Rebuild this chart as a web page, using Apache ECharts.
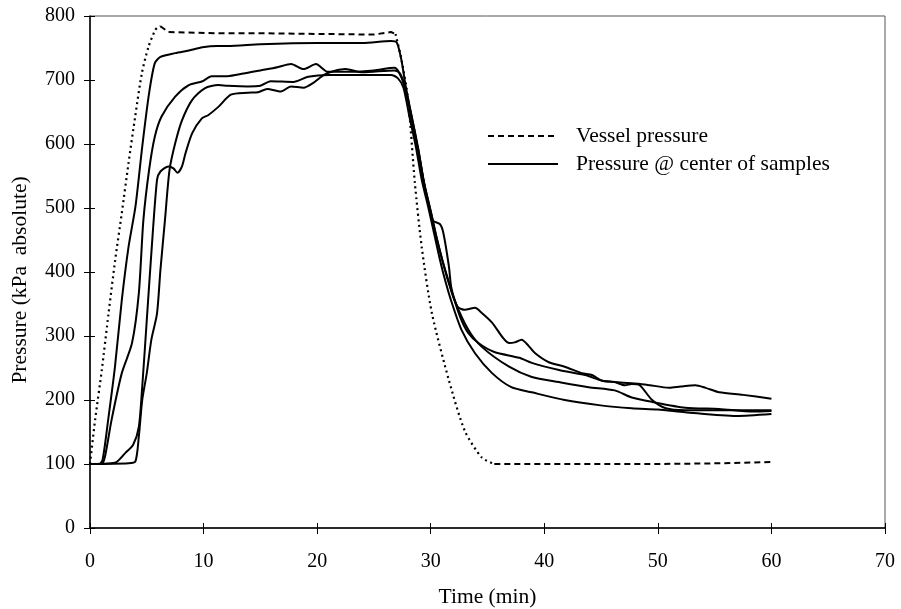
<!DOCTYPE html>
<html>
<head>
<meta charset="utf-8">
<script src="https://cdn.jsdelivr.net/npm/echarts@6/dist/echarts.min.js"></script>
<style>
html,body{margin:0;padding:0;background:#fff;}
#chart{width:901px;height:609px;}
</style>
</head>
<body>
<div id="chart"></div>
<script>
// ---- data (time in min, pressure in kPa absolute) ----
var vesselTime = [0, 0.45, 1.04, 1.63, 2.22, 2.8, 3.39, 3.98, 4.56, 5.15, 5.74, 6.0, 6.2, 6.9, 11, 15, 20, 25, 26.5, 26.9, 27.4, 28.0, 28.6, 29.2, 30.1, 31.6, 33.0, 34.5, 35.6, 40, 45, 50, 55, 60];
var vesselPressure = [100, 169, 247, 335, 419, 492, 570, 643, 710, 752, 778, 783, 784, 775, 773, 773, 772, 771, 775, 772, 734, 671, 540, 440, 336, 231, 152, 110, 100, 100, 100, 100, 101, 103];
// phases of the vessel curve drawn dotted (pressurising / venting)
var vesselDottedRanges = [[0, 6.2], [26.9, 35.6]];

var sampleATime = [0, 0.8, 1.1, 1.6, 2.2, 2.8, 3.4, 4.0, 4.6, 5.2, 5.7, 6.2, 7.5, 8.7, 9.9, 11.2, 12.1, 15, 20, 24, 26.5, 27.0, 27.4, 27.8, 28.3, 28.9, 29.4, 30.0, 30.5, 31.0, 31.5, 32.0, 33.3, 34.5, 36.9, 38.9, 41.3, 43.9, 46.2, 47.7, 49.5, 52.4, 55.4, 58.4, 60];
var sampleAPressure = [100, 100, 106, 169, 252, 356, 440, 502, 596, 679, 726, 736, 742, 746, 751, 753, 753, 756, 758, 758, 761, 759, 733, 690, 645, 590, 540, 495, 455, 420, 390, 360, 310, 283, 252, 236, 228, 220, 215, 204, 197, 188, 186, 182, 183];

var sampleBTime = [0, 1.0, 1.3, 1.9, 2.8, 3.7, 4.3, 4.7, 5.2, 5.7, 6.3, 7.5, 8.7, 9.9, 10.7, 12.1, 13.5, 15, 16.5, 17.7, 18.8, 19.9, 20.9, 22, 23, 25, 26.8, 27.2, 27.7, 28.3, 28.9, 29.4, 30.1, 30.5, 31.0, 31.5, 32.0, 32.4, 33.0, 33.9, 34.5, 35.4, 36.9, 37.4, 38.0, 38.6, 39.2, 40.4, 41.8, 43.3, 44.2, 45.1, 46.2, 47.1, 47.7, 48.4, 49.5, 50.7, 52.4, 55, 58, 60];
var sampleBPressure = [100, 100, 110, 169, 242, 289, 367, 481, 559, 611, 643, 674, 692, 698, 706, 706, 710, 715, 720, 725, 717, 725, 713, 713, 713, 715, 719, 712, 690, 645, 593, 541, 487, 455, 420, 388, 362, 345, 341, 344, 336, 321, 289, 290, 294, 285, 273, 259, 252, 242, 239, 230, 228, 223, 225, 223, 200, 187, 184, 184, 184, 184];

var sampleCTime = [0, 2.2, 3.1, 3.8, 4.3, 4.6, 5.0, 5.4, 5.9, 6.2, 6.9, 7.35, 7.7, 8.1, 8.4, 9.0, 9.85, 10.4, 11.3, 12.4, 13.9, 14.8, 15.6, 16.8, 17.7, 18.8, 19.7, 20.6, 21.5, 22.5, 24, 26.8, 27.3, 27.8, 28.3, 28.9, 29.4, 29.8, 30.2, 30.8, 31.1, 31.6, 31.8, 32.2, 32.7, 33.3, 34.2, 35.6, 37.8, 38.9, 41.3, 43.6, 45.1, 46.2, 47.7, 49, 51, 52, 53.3, 54.2, 55.4, 57.5, 60];
var sampleCPressure = [100, 102, 117, 130, 158, 221, 325, 429, 544, 557, 565, 562, 555, 565, 585, 617, 640, 645, 658, 677, 680, 681, 686, 682, 690, 688, 696, 708, 714, 717, 712, 715, 710, 685, 640, 590, 540, 505, 480, 475, 462, 409, 377, 350, 325, 305, 289, 275, 266, 258, 247, 239, 230, 228, 226, 224, 219, 221, 223, 219, 212, 208, 202];

var sampleDTime = [0, 3.4, 4.0, 4.3, 4.6, 5.0, 5.4, 5.9, 6.2, 6.6, 7.0, 7.5, 8.1, 9.0, 10.1, 11.3, 12.1, 13.9, 15.0, 15.9, 17.9, 19.2, 21.0, 23.6, 26.5, 27.1, 27.6, 28.1, 28.7, 29.2, 29.8, 30.3, 30.8, 31.3, 31.8, 32.7, 33.9, 35.4, 37.1, 38.9, 41.8, 44.8, 47.7, 50, 52.4, 56.9, 60];
var sampleDPressure = [100, 101, 104, 143, 200, 242, 294, 335, 403, 481, 559, 601, 637, 669, 687, 692, 691, 690, 691, 698, 697, 705, 708, 708, 708, 703, 688, 645, 595, 545, 500, 460, 420, 385, 355, 310, 273, 242, 220, 212, 200, 192, 187, 185, 181, 175, 178];

var xTicks = [0, 10, 20, 30, 40, 50, 60, 70];
var yTicks = [0, 100, 200, 300, 400, 500, 600, 700, 800];
var vesselName = 'Vessel pressure';
var sampleName = 'Pressure @ center of samples';
var xTitle = 'Time (min)';
var yTitle = 'Pressure (kPa  absolute)';

// ---- build ----
function zip(t, p) { return t.map(function (v, i) { return [v, p[i]]; }); }
function inDotted(t) {
  return vesselDottedRanges.some(function (r) { return t >= r[0] && t <= r[1]; });
}
function onBoundary(t) {
  return vesselDottedRanges.some(function (r) { return t === r[0] || t === r[1]; });
}
var dottedData = [], dashedData = [];
vesselTime.forEach(function (t, i) {
  var pt = [t, vesselPressure[i]];
  var d = inDotted(t), b = onBoundary(t);
  if (d) dottedData.push(pt); else if (dottedData.length && dottedData[dottedData.length - 1] !== '-') dottedData.push('-');
  if (!d || b) dashedData.push(pt); else if (dashedData.length && dashedData[dashedData.length - 1] !== '-') dashedData.push('-');
});

var FONT = 'Liberation Serif';
var chart = echarts.init(document.getElementById('chart'), null, { renderer: 'canvas' });

function sampleSeries(t, p) {
  return {
    name: sampleName, type: 'line', data: zip(t, p), showSymbol: false, symbol: 'none',
    smooth: 0.25, lineStyle: { color: '#000', width: 2 }, itemStyle: { color: '#000' }, z: 3, silent: true
  };
}

var axisBase = {
  type: 'value', splitLine: { show: false }
};

chart.setOption({
  animation: false,
  backgroundColor: '#fff',
  textStyle: { fontFamily: FONT, color: '#000' },
  grid: { left: 90, right: 16, top: 16, bottom: 81, show: true, borderColor: '#555', borderWidth: 1, containLabel: false, outerBoundsMode: 'none' },
  legend: {
    orient: 'vertical', left: 482, top: 120, itemWidth: 70, itemHeight: 14, itemGap: 6,
    selectedMode: false, data: [vesselName, sampleName],
    itemStyle: { opacity: 0, borderWidth: 0 },
    textStyle: { fontFamily: FONT, fontSize: 21.5, color: '#000', padding: [0, 0, 0, 13] }
  },
  xAxis: [
    Object.assign({}, axisBase, {
      min: xTicks[0], max: xTicks[xTicks.length - 1], interval: xTicks[1] - xTicks[0], position: 'bottom',
      axisLine: { show: true, lineStyle: { color: '#000', width: 1.5 } },
      axisTick: { show: true, inside: false, length: 6, lineStyle: { color: '#000', width: 1 } },
      axisLabel: { fontFamily: FONT, fontSize: 20, color: '#000', margin: 24 },
      name: xTitle, nameLocation: 'middle', nameGap: 58,
      nameTextStyle: { fontFamily: FONT, fontSize: 21.5, color: '#000' }
    }),
    Object.assign({}, axisBase, {
      min: xTicks[0], max: xTicks[xTicks.length - 1], interval: xTicks[1] - xTicks[0], position: 'bottom',
      axisLine: { show: false }, axisTick: { show: true, inside: true, length: 5, lineStyle: { color: '#000', width: 1 } },
      axisLabel: { show: false }
    })
  ],
  yAxis: [
    Object.assign({}, axisBase, {
      min: yTicks[0], max: yTicks[yTicks.length - 1], interval: yTicks[1] - yTicks[0], position: 'left',
      axisLine: { show: true, lineStyle: { color: '#000', width: 1.5 } },
      axisTick: { show: true, inside: false, length: 6, lineStyle: { color: '#000', width: 1 } },
      axisLabel: { fontFamily: FONT, fontSize: 20, color: '#000', margin: 15 },
      name: yTitle, nameLocation: 'middle', nameGap: 59, nameRotate: 90,
      nameTextStyle: { fontFamily: FONT, fontSize: 21.5, color: '#000', padding: [0, 16, 0, 0] }
    }),
    Object.assign({}, axisBase, {
      min: yTicks[0], max: yTicks[yTicks.length - 1], interval: yTicks[1] - yTicks[0], position: 'left',
      axisLine: { show: false }, axisTick: { show: true, inside: true, length: 5, lineStyle: { color: '#000', width: 1 } },
      axisLabel: { show: false }
    })
  ],
  series: [
    {
      name: vesselName, type: 'line', data: dashedData, showSymbol: false, symbol: 'none', connectNulls: false,
      lineStyle: { color: '#000', width: 2, type: [6, 4] }, itemStyle: { color: '#000' }, z: 2, silent: true
    },
    {
      name: vesselName, type: 'line', data: dottedData, showSymbol: false, symbol: 'none', connectNulls: false,
      smooth: 0.25, lineStyle: { color: '#000', width: 2.2, type: [2, 3.5] }, itemStyle: { color: '#000' }, z: 2, silent: true
    },
    sampleSeries(sampleATime, sampleAPressure),
    sampleSeries(sampleBTime, sampleBPressure),
    sampleSeries(sampleCTime, sampleCPressure),
    sampleSeries(sampleDTime, sampleDPressure)
  ]
});
</script>
</body>
</html>
